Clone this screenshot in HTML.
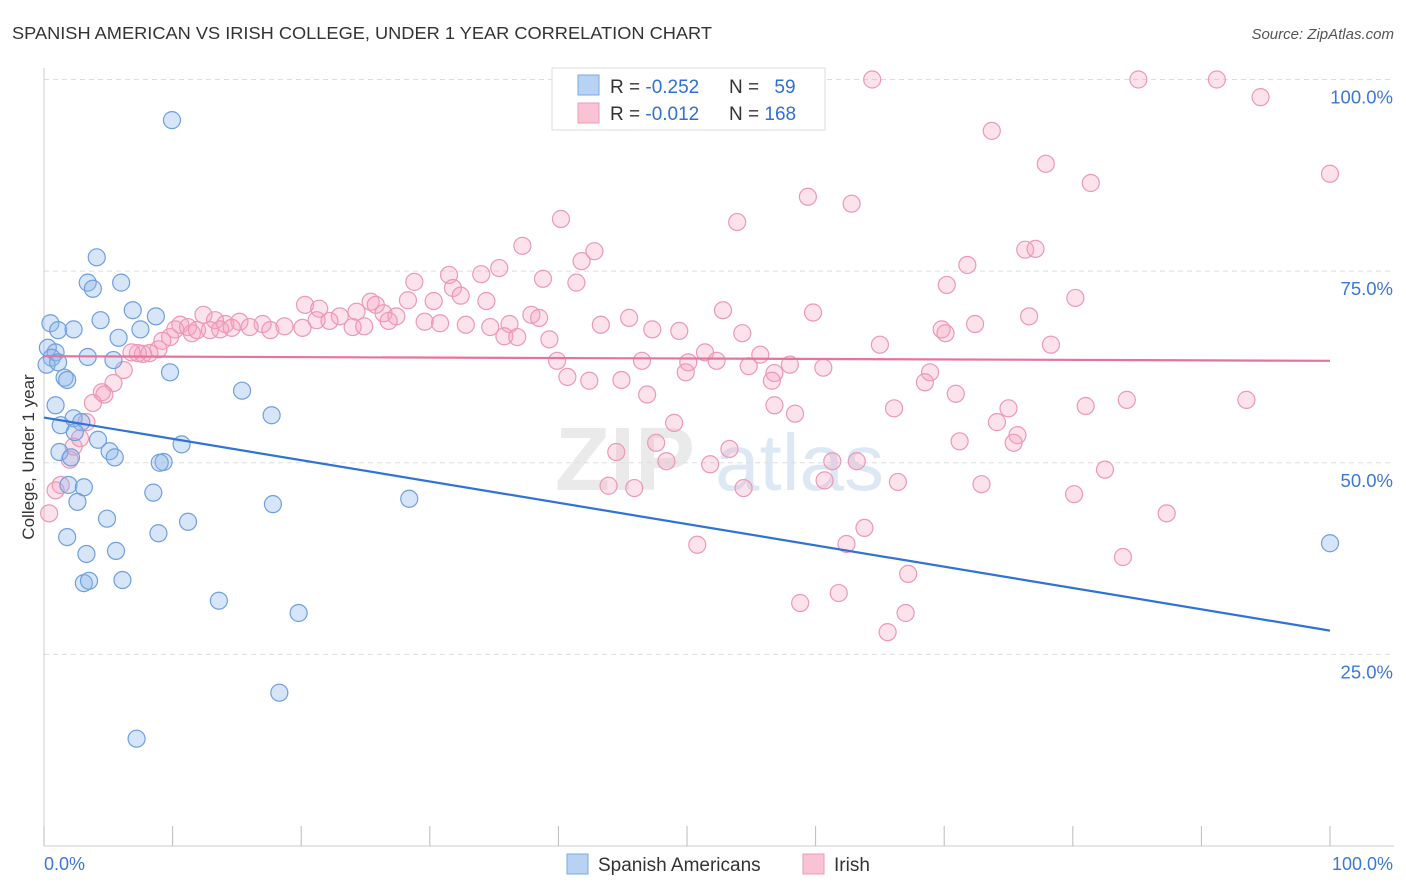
<!DOCTYPE html>
<html><head><meta charset="utf-8">
<style>
body{margin:0;background:#fff;font-family:"Liberation Sans",sans-serif;}
#wrap{position:relative;width:1406px;height:892px;overflow:hidden;}
svg text{font-family:"Liberation Sans",sans-serif;}
</style></head><body>
<div id="wrap">
<svg id="chart" width="1406" height="892">
<text x="12" y="39" font-size="17.5" fill="#333" textLength="700" lengthAdjust="spacingAndGlyphs">SPANISH AMERICAN VS IRISH COLLEGE, UNDER 1 YEAR CORRELATION CHART</text>
<text x="1394" y="39" font-size="15" fill="#555" font-style="italic" text-anchor="end">Source: ZipAtlas.com</text>
<text x="34" y="457" font-size="17" fill="#333" text-anchor="middle" transform="rotate(-90 34 457)">College, Under 1 year</text>
<g><text x="555" y="490" font-size="90" fill="#ddd" font-weight="bold" opacity="0.6">ZIP</text><text x="715" y="490" font-size="80" fill="#c8daf0" opacity="0.6">atlas</text></g>
<g id="grid"></g><g id="marks"></g><g id="lines"></g>
<g>
<rect x="552" y="68" width="273" height="62" fill="#fff" stroke="#ddd"/>
<rect x="578" y="75" width="21" height="20" fill="#b8d2f4" stroke="#7aaae8"/>
<rect x="578" y="103" width="21" height="20" fill="#f9c3d4" stroke="#ee9ab8"/>
<text x="610" y="93" font-size="19" fill="#333">R = <tspan fill="#2f6fd6">-0.252</tspan></text>
<text x="729" y="93" font-size="19" fill="#333">N = <tspan fill="#2f6fd6" dx="10">59</tspan></text>
<text x="610" y="120" font-size="19" fill="#333">R = <tspan fill="#2f6fd6">-0.012</tspan></text>
<text x="729" y="120" font-size="19" fill="#333">N = <tspan fill="#2f6fd6">168</tspan></text>
</g>
<g>
<rect x="567" y="854" width="21" height="20" fill="#b8d2f4" stroke="#7aaae8"/>
<text x="598" y="871" font-size="19" fill="#333">Spanish Americans</text>
<rect x="803" y="854" width="21" height="20" fill="#f9c3d4" stroke="#ee9ab8"/>
<text x="834" y="871" font-size="19" fill="#333">Irish</text>
</g>
<text x="44" y="870" font-size="18" fill="#3a78d8">0.0%</text>
<text x="1393" y="870" font-size="18" fill="#3a78d8" text-anchor="end">100.0%</text>
</svg>
</div>
<script>
const yTicks=[100,75,50,25];
const yTickLabels=["100.0%","75.0%","50.0%","25.0%"];
const xTicks=[0,10,20,30,40,50,60,70,80,90,100];
const blueX=[9.95,4.1,3.4,3.8,6.0,4.4,6.9,8.7,7.5,0.5,1.1,2.3,5.8,0.3,0.9,0.6,0.2,1.1,3.4,5.4,9.8,1.6,1.8,15.4,0.9,17.7,2.3,2.9,1.3,2.4,4.2,5.1,5.5,10.7,1.2,2.1,9.3,9.0,1.9,3.1,8.5,28.4,2.6,17.8,4.9,11.2,1.8,8.9,3.3,5.6,3.1,3.5,6.1,13.6,19.8,18.3,7.2,100];
const blueY=[94.7,76.8,73.5,72.7,73.5,68.6,69.9,69.1,67.4,68.2,67.3,67.4,66.3,65.0,64.4,63.7,62.8,63.1,63.8,63.4,61.8,61.1,60.8,59.4,57.5,56.2,55.8,55.3,54.9,54.0,53.0,51.5,50.7,52.4,51.4,50.7,50.1,50.0,47.1,46.8,46.1,45.3,44.9,44.6,42.7,42.3,40.3,40.8,38.1,38.5,34.3,34.6,34.7,32.0,30.4,20.0,14.0,39.5];
const pinkX=[64.4,85.1,91.2,94.6,73.7,77.9,100,81.4,59.4,62.8,40.2,53.9,37.2,42.8,41.8,76.3,77.1,71.8,35.4,34.0,31.5,28.8,38.8,41.4,70.2,31.8,32.4,28.3,34.4,30.3,25.4,80.2,20.3,21.4,23.0,24.3,25.8,26.4,27.4,37.9,38.5,45.5,52.8,59.8,76.6,12.4,13.3,14.1,15.2,16.0,17.0,17.6,18.7,20.1,21.2,22.2,24.0,24.9,26.8,29.6,30.8,32.8,34.7,36.2,35.8,36.8,39.3,43.3,47.3,49.4,54.3,69.8,70.1,72.4,10.2,10.6,11.2,11.5,11.9,12.9,13.7,14.6,9.8,9.2,8.9,8.2,7.7,7.3,6.8,65.0,51.4,55.7,50.1,52.3,58.0,39.9,46.5,49.9,54.8,56.8,60.6,68.9,56.6,40.7,42.4,44.9,68.5,78.3,6.2,5.4,4.5,4.7,46.9,70.9,3.8,56.8,84.2,93.5,66.1,75.0,81.0,58.4,49.0,74.1,3.3,75.7,2.8,2.3,47.6,71.2,75.4,53.3,44.5,48.4,51.8,61.3,63.2,82.5,2.0,60.7,66.4,72.9,43.9,45.9,54.4,80.1,0.9,1.3,0.4,87.3,63.8,62.4,50.8,83.9,67.2,61.8,58.8,67.0,65.6];
const pinkY=[100,100,100,97.7,93.3,89.0,87.7,86.5,84.7,83.8,81.8,81.4,78.3,77.6,76.3,77.8,77.9,75.8,75.4,74.6,74.5,73.6,74.0,73.5,73.2,72.8,71.8,71.2,71.1,71.1,71.0,71.5,70.6,70.1,69.1,69.7,70.6,69.5,69.1,69.3,68.9,68.9,69.9,69.6,69.1,69.3,68.6,68.1,68.4,67.7,68.1,67.3,67.8,67.6,68.6,68.5,67.7,67.8,68.5,68.4,68.2,68.0,67.7,68.1,66.5,66.4,66.1,68.0,67.4,67.2,66.9,67.4,66.9,68.1,67.4,68.0,67.7,66.9,67.3,67.3,67.4,67.6,66.4,65.9,64.8,64.3,64.2,64.3,64.4,65.4,64.4,64.1,63.1,63.3,62.8,63.3,63.3,61.8,62.6,61.7,62.4,61.8,60.7,61.2,60.7,60.8,60.5,65.4,62.1,60.4,59.2,58.9,58.9,59.0,57.8,57.5,58.2,58.2,57.1,57.1,57.4,56.4,55.2,55.3,55.3,53.6,53.2,52.1,52.6,52.8,52.6,51.8,51.4,50.2,49.8,50.2,50.2,49.1,50.4,47.7,47.5,47.2,47.0,46.7,46.7,45.9,46.4,47.1,43.4,43.4,41.5,39.4,39.3,37.7,35.5,33.0,31.7,30.4,27.9];
const blueTrend=[55.9,28.1];
const pinkTrend=[63.9,63.3];

const NS="http://www.w3.org/2000/svg";
const X=v=>44+v/100*1286;
const Y=v=>846-v/100*766.5;
function mk(tag,attrs,parent){const e=document.createElementNS(NS,tag);for(const k in attrs)e.setAttribute(k,attrs[k]);parent.appendChild(e);return e;}
const grid=document.getElementById('grid'),marks=document.getElementById('marks'),lines=document.getElementById('lines');
yTicks.forEach((t,i)=>{
 const l=mk('line',{x1:44,x2:1394,y1:Y(t),y2:Y(t),stroke:'#ddd','stroke-dasharray':'5,4'},grid);
 
 
 const tx=mk('text',{x:1393,y:Y(t)+24,'font-size':18.5,fill:'#3a78d8','text-anchor':'end'},grid);
 tx.textContent=yTickLabels[i];
 
 
});
const ax=mk('line',{x1:44,x2:44,y1:68,y2:846,stroke:'#ccc'},grid);


const bx=mk('line',{x1:44,x2:1394,y1:846,y2:846,stroke:'#ccc'},grid);


xTicks.forEach(t=>{
 const l=mk('line',{x1:X(t),x2:X(t),y1:826,y2:846,stroke:'#bbb'},grid);
 
 
});
pinkX.forEach((v,i)=>{
 const c=mk('circle',{cx:X(v),cy:Y(pinkY[i]),r:8.5,fill:'rgba(244,160,190,0.3)',stroke:'#ec98b6','stroke-width':1.2},marks);
 
 
});
blueX.forEach((v,i)=>{
 const c=mk('circle',{cx:X(v),cy:Y(blueY[i]),r:8.5,fill:'rgba(140,180,235,0.35)',stroke:'#6f9fe0','stroke-width':1.2},marks);
 
 
});
const bl=mk('line',{x1:X(0),y1:Y(blueTrend[0]),x2:X(100),y2:Y(blueTrend[1]),stroke:'#2f72d8','stroke-width':2.2},lines);


const pl=mk('line',{x1:X(0),y1:Y(pinkTrend[0]),x2:X(100),y2:Y(pinkTrend[1]),stroke:'#e8729c','stroke-width':2.2},lines);


</script>
</body></html>
